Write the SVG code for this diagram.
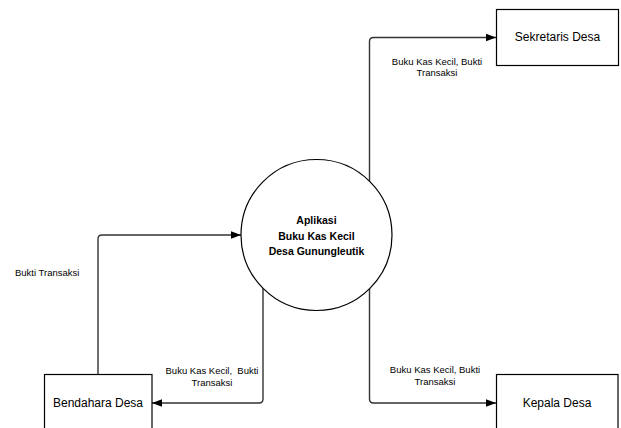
<svg xmlns="http://www.w3.org/2000/svg" width="621" height="428" viewBox="0 0 621 428">
<style>
.box{fill:#fff;stroke:#000;stroke-width:1.2}
.conn{fill:none;stroke:#333;stroke-width:1.4}
.lbl{font-family:"Liberation Sans",Arial,sans-serif;font-size:9.5px;fill:#000}
.name{font-family:"Liberation Sans",Arial,sans-serif;font-size:12px;fill:#000}
.proc{font-family:"Liberation Sans",Arial,sans-serif;font-size:10.5px;font-weight:bold;fill:#000}
</style>
<defs>
<marker id="arr" markerUnits="userSpaceOnUse" markerWidth="10" markerHeight="10" viewBox="0 0 10 10" refX="10" refY="5" orient="auto">
<path d="M0,1.2 L10,5 L0,8.8 Z" fill="#000"/>
</marker>
</defs>
<g id="connectors">
<path class="conn" d="M369.5,182 V41.5 Q369.5,37.5 373.5,37.5 H496" marker-end="url(#arr)"/>
<path class="conn" d="M98,374 V239 Q98,235 102,235 H241" marker-end="url(#arr)"/>
<path class="conn" d="M263,288 V399 Q263,403 259,403 H152" marker-end="url(#arr)"/>
<path class="conn" d="M369.5,288 V399 Q369.5,403 373.5,403 H496" marker-end="url(#arr)"/>
<text class="lbl" x="437" y="65" text-anchor="middle">Buku Kas Kecil, Bukti</text>
<text class="lbl" x="437" y="76" text-anchor="middle">Transaksi</text>
<text class="lbl" x="15" y="276">Bukti Transaksi</text>
<text class="lbl" x="212" y="374" text-anchor="middle" xml:space="preserve">Buku Kas Kecil,  Bukti</text>
<text class="lbl" x="212" y="386" text-anchor="middle">Transaksi</text>
<text class="lbl" x="435" y="373" text-anchor="middle">Buku Kas Kecil, Bukti</text>
<text class="lbl" x="435" y="385" text-anchor="middle">Transaksi</text>
</g>
<g id="process">
<circle cx="316.5" cy="235" r="75.5" fill="#fff" stroke="#000" stroke-width="1.2"/>
<text class="proc" x="316.5" y="224" text-anchor="middle">Aplikasi</text>
<text class="proc" x="316.5" y="240" text-anchor="middle">Buku Kas Kecil</text>
<text class="proc" x="316.5" y="255" text-anchor="middle">Desa Gunungleutik</text>
</g>
<g id="sekretaris">
<rect class="box" x="496.5" y="9.5" width="122" height="56"/>
<text class="name" x="557.5" y="41" text-anchor="middle">Sekretaris Desa</text>
</g>
<g id="bendahara">
<rect class="box" x="44.5" y="374.5" width="107.5" height="70"/>
<text class="name" x="98" y="407" text-anchor="middle">Bendahara Desa</text>
</g>
<g id="kepala">
<rect class="box" x="496.5" y="374.5" width="121.5" height="70"/>
<text class="name" x="557" y="407" text-anchor="middle">Kepala Desa</text>
</g>
</svg>
